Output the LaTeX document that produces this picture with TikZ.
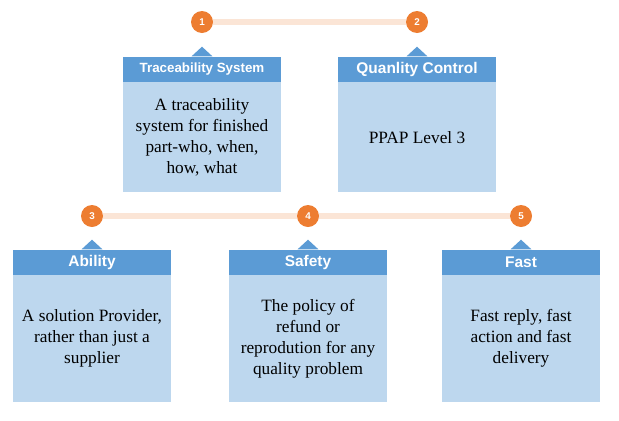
\documentclass[tikz,border=0pt]{standalone}
\usepackage{fontspec}
\setmainfont{Liberation Serif}
\setsansfont{Liberation Sans}
\usetikzlibrary{positioning}

\definecolor{numorange}{RGB}{237,125,49}
\definecolor{linkpeach}{RGB}{251,229,214}
\definecolor{hdrblue}{RGB}{91,155,213}
\definecolor{bodyblue}{RGB}{189,215,238}

\begin{document}
\begin{tikzpicture}[
    num/.style={circle, fill=numorange, minimum size=0.55cm, inner sep=0pt, text=white, font=\sffamily\bfseries\fontsize{7}{8}\selectfont},
    link/.style={linkpeach, line width=4.3pt},
    hdr/.style={rectangle, fill=hdrblue, minimum width=3.95cm, minimum height=0.625cm, inner sep=0pt, text=white, font=\sffamily\bfseries\fontsize{11}{13}\selectfont},
    body/.style={rectangle, fill=bodyblue, minimum width=3.95cm, align=center, inner sep=0pt, font=\fontsize{12.3}{15}\selectfont}]
                \useasboundingbox (0,0) rectangle (15.475,-10.5);
                % numbered dots
                \node[num] (c1) at (5.05,-0.55) {1};
                \node[num] (c2) at (10.425,-0.55) {2};
                \node[num] (c3) at (2.3,-5.4) {3};
                \node[num] (c4) at (7.7,-5.4) {4};
                \node[num] (c5) at (13.025,-5.4) {5};
                \draw[link] (c1) -- (c2);
                \draw[link] (c3) -- (c4);
                \draw[link] (c4) -- (c5);
                % top row
                \node[hdr, below=0.575cm of c1] (h1) {\fontsize{9.5}{11}\selectfont Traceability System};
                \node[body, minimum height=2.75cm, below=0pt of h1] (b1) {A traceability\\system for finished\\part-who, when,\\how, what};
                \node[hdr, below=0.575cm of c2] (h2) {Quanlity Control};
                \node[body, minimum height=2.75cm, below=0pt of h2] (b2) {PPAP Level 3};
                % bottom row
                \node[hdr, below=0.55cm of c3] (h3) {Ability};
                \node[body, minimum height=3.175cm, below=0pt of h3] (b3) {A solution Provider,\\rather than just a\\supplier};
                \node[hdr, below=0.55cm of c4] (h4) {Safety};
                \node[body, minimum height=3.175cm, below=0pt of h4] (b4) {The policy of\\refund or\\reprodution for any\\quality problem};
                \node[hdr, below=0.55cm of c5] (h5) {Fast};
                \node[body, minimum height=3.175cm, below=0pt of h5] (b5) {Fast reply, fast\\action and fast\\delivery};
                % little pointers
                \foreach \h in {h1,h2,h3,h4,h5}
                    \fill[hdrblue] (\h.north) ++(-0.26,0) -- ++(0.26,0.24) -- ++(0.26,-0.24) -- cycle;
                \end{tikzpicture}
\end{document}
